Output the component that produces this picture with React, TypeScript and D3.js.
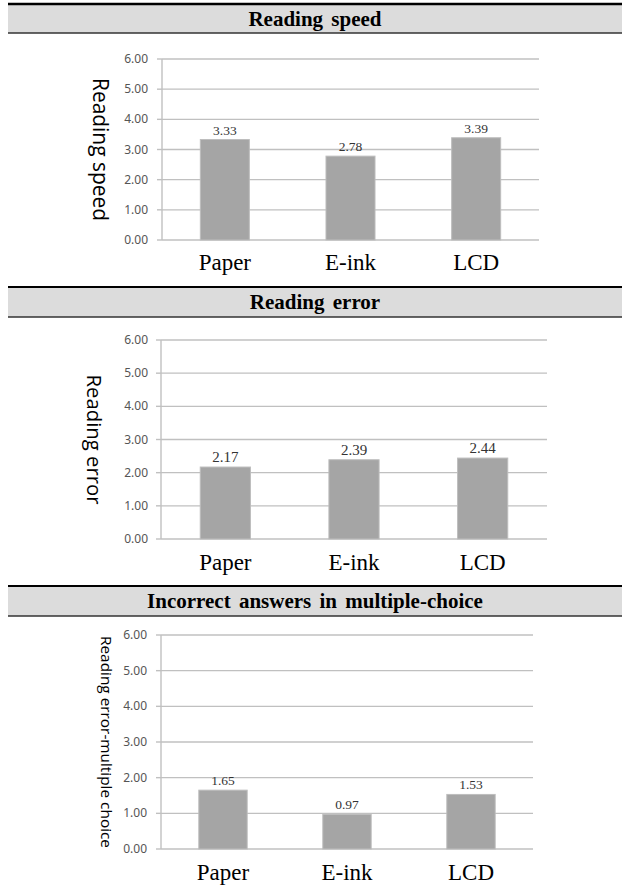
import React from "react";
import * as d3 from "d3";

const categories = ["Paper", "E-ink", "LCD"];
const speedValues = [3.33, 2.78, 3.39];
const errorValues = [2.17, 2.39, 2.44];
const mcValues = [1.65, 0.97, 1.53];
const yTicks = [0, 1, 2, 3, 4, 5, 6];
const panelTitles = ["Reading speed", "Reading error", "Incorrect answers in multiple-choice"];
const axisTitles = ["Reading speed", "Reading error", "Reading error-multiple choice"];
const seriesList = [speedValues, errorValues, mcValues];

const layouts = [
  { hTop: 4, hBot: 33, topW: 2.5, top: 59, bottom: 240, left: 162, right: 539, catY: 270, tx: 93, tLen: 143, tFont: 21, vFont: 13.5, labR: 148 },
  { hTop: 287, hBot: 317, topW: 2, top: 340, bottom: 539, left: 161, right: 547, catY: 570, tx: 87, tLen: 130, tFont: 20, vFont: 15, labR: 148 },
  { hTop: 586, hBot: 616, topW: 2, top: 635, bottom: 849, left: 161, right: 533, catY: 880, tx: 101, tLen: 212, tFont: 15, vFont: 13.5, labR: 147 },
];

function Panel({ idx }: { idx: number }) {
  const L = layouts[idx];
  const values = seriesList[idx];
  const x = d3.scaleBand<string>().domain(categories).range([L.left, L.right]).paddingInner(0.61).paddingOuter(0.305);
  const y = d3.scaleLinear().domain([0, 6]).range([L.bottom, L.top]);
  const bw = x.bandwidth();
  const tcy = (L.top + L.bottom) / 2;
  return (
    <g>
      <rect x={8} y={L.hTop} width={614} height={L.hBot - L.hTop} fill="#dcdcdc" />
      <line x1={8} x2={622} y1={L.hTop} y2={L.hTop} stroke="#000" strokeWidth={L.topW} />
      <line x1={8} x2={622} y1={L.hBot} y2={L.hBot} stroke="#333" strokeWidth={1.5} />
      <text x={315} y={(L.hTop + L.hBot) / 2 + 7} textAnchor="middle" fontFamily="Liberation Serif" fontWeight="bold" fontSize={21} wordSpacing={3} fill="#000">
        {panelTitles[idx]}
      </text>
      {yTicks.map((t) => (
        <g key={t}>
          <line x1={L.left} x2={L.right} y1={y(t)} y2={y(t)} stroke="#c0c0c0" strokeWidth={1.4} />
          <line x1={L.left - 5} x2={L.left} y1={y(t)} y2={y(t)} stroke="#c0c0c0" strokeWidth={1.4} />
          <text x={L.labR} y={y(t) + 4} textAnchor="end" fontFamily="Noto Sans" fontSize={12} fill="#555">
            {t.toFixed(2)}
          </text>
        </g>
      ))}
      <line x1={L.left} x2={L.left} y1={L.top} y2={L.bottom} stroke="#c0c0c0" strokeWidth={1.4} />
      {categories.map((c, i) => (
        <g key={c}>
          <rect x={x(c)!} y={y(values[i])} width={bw} height={L.bottom - y(values[i])} fill="#a5a5a5" stroke="#bdbdbd" strokeWidth={1} />
          <text x={x(c)! + bw / 2} y={y(values[i]) - 5} textAnchor="middle" fontFamily="Liberation Serif" fontSize={L.vFont} fill="#333">
            {values[i].toFixed(2)}
          </text>
          <text x={x(c)! + bw / 2} y={L.catY} textAnchor="middle" fontFamily="Liberation Serif" fontSize={23} fill="#000">
            {c}
          </text>
        </g>
      ))}
      <text
        transform={`translate(${L.tx},${tcy}) rotate(90)`}
        textAnchor="middle"
        fontFamily="Open Sans"
        fontSize={L.tFont}
        textLength={L.tLen}
        lengthAdjust="spacingAndGlyphs"
        fill="#000"
      >
        {axisTitles[idx]}
      </text>
    </g>
  );
}

export default function App() {
  return (
    <svg width={622} height={894} style={{ position: "absolute", left: 0, top: 0, background: "#fff" }}>
      <rect width={622} height={894} fill="#fff" />
      {[0, 1, 2].map((i) => (
        <Panel key={i} idx={i} />
      ))}
    </svg>
  );
}
